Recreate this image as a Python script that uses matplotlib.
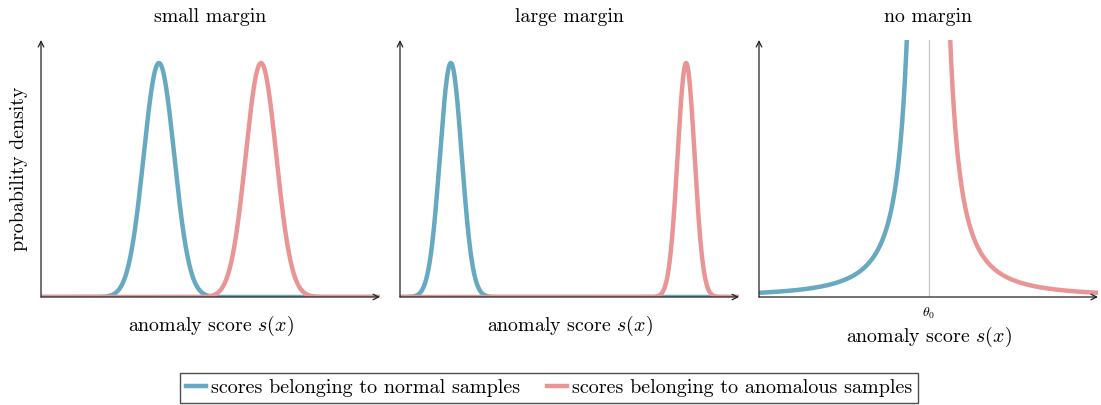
import numpy as np
import matplotlib.pyplot as plt

plt.rcParams['font.family'] = ['cmr10', 'DejaVu Serif']
plt.rcParams['mathtext.fontset'] = 'cm'
plt.rcParams['axes.formatter.use_mathtext'] = True

# panel titles and curve parameters (score axis runs 0..10, peaks scaled to 1)
titles = ['small margin', 'large margin', 'no margin']
normal_mean = [3.48, 1.5]
normal_std = [0.45, 0.32]
anomal_mean = [6.49, 8.44]
anomal_std = [0.45, 0.25]
theta0 = 5.0
tail_scale = 0.45  # no-margin curves: tail_scale / (s - theta0)^2

blue = '#66a9c1'
red = '#e99596'
axis_col = '#222222'
fs = 14.3

fig = plt.figure(figsize=(11.01, 4.05), dpi=100)
lefts = [41, 400, 759]
axes = [fig.add_axes([l / 1101, 108 / 405, 339 / 1101, 257 / 405]) for l in lefts]

x = np.linspace(0, 10, 800)
for i, ax in enumerate(axes):
    if i < 2:
        yb = np.exp(-(x - normal_mean[i]) ** 2 / (2 * normal_std[i] ** 2))
        yr = np.exp(-(x - anomal_mean[i]) ** 2 / (2 * anomal_std[i] ** 2))
        ax.plot(x, yb, color=blue, lw=3.2, solid_capstyle='butt')
        ax.plot(x, yr, color=red, lw=3.2, solid_capstyle='butt')
        ax.set_xticks([])
        ax.set_xlabel(r'anomaly score $s(x)$', fontsize=fs, labelpad=12)
    else:
        xl = np.linspace(0, theta0 - 0.05, 600)
        xr = np.linspace(theta0 + 0.05, 10, 600)
        ax.axvline(theta0, color='#c8c8c8', lw=0.9)
        ax.plot(xl, tail_scale / (theta0 - xl) ** 2, color=blue, lw=3.2, solid_capstyle='butt')
        ax.plot(xr, tail_scale / (xr - theta0) ** 2, color=red, lw=3.2, solid_capstyle='butt')
        ax.set_xticks([theta0])
        ax.set_xticklabels([r'$\theta_0$'], fontsize=10)
        ax.tick_params(axis='x', length=0, pad=6)
        ax.set_xlabel(r'anomaly score $s(x)$', fontsize=fs, labelpad=3)
    ax.set_xlim(0, 10)
    ax.set_ylim(0, 257 / 234)
    ax.set_yticks([])
    for s in ax.spines.values():
        s.set_visible(False)
    ax.annotate('', xy=(1.0, 0), xytext=(0, 0), xycoords='axes fraction',
                arrowprops=dict(arrowstyle='->', color=axis_col, lw=0.9, shrinkA=0, shrinkB=0))
    ax.annotate('', xy=(0, 1.0), xytext=(0, 0), xycoords='axes fraction',
                arrowprops=dict(arrowstyle='->', color=axis_col, lw=0.9, shrinkA=0, shrinkB=0))
    ax.set_title(titles[i], fontsize=fs, pad=13)

axes[0].set_ylabel('probability density', fontsize=fs, labelpad=9)

h1, = axes[0].plot([], [], color=blue, lw=3.2)
h2, = axes[0].plot([], [], color=red, lw=3.2)
fig.legend([h1, h2], ['scores belonging to normal samples', 'scores belonging to anomalous samples'],
           loc='center', bbox_to_anchor=(549 / 1101, 1 - 388 / 405), ncol=2, fontsize=14.5,
           frameon=True, fancybox=False, edgecolor='#222222', handlelength=1.0,
           handletextpad=0.25, columnspacing=1.3, borderpad=0.3)

fig.savefig('out.png', dpi=100)
